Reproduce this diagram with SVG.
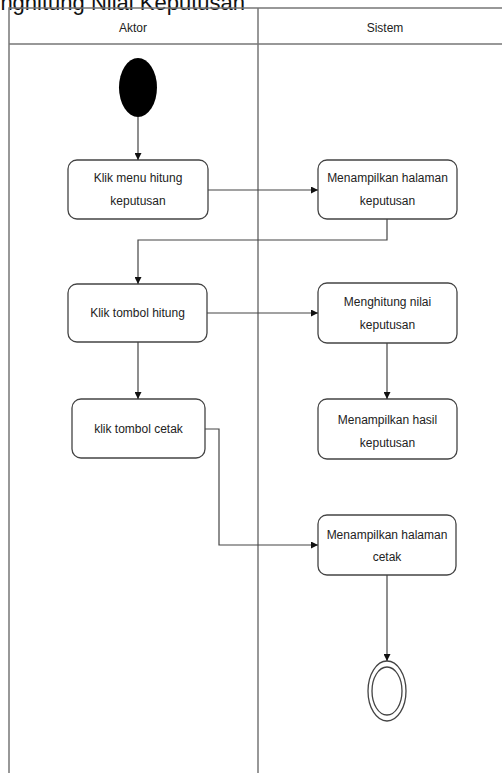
<svg xmlns="http://www.w3.org/2000/svg" width="502" height="773" viewBox="0 0 502 773">
  <defs>
    <marker id="arrow" viewBox="0 0 10 10" refX="10" refY="5" markerWidth="7" markerHeight="7" markerUnits="userSpaceOnUse" orient="auto">
      <path d="M0,0 L10,5 L0,10 Z" fill="#111"/>
    </marker>
    <style>
      .title { font-family: "Liberation Sans", Arial, sans-serif; font-size: 22px; fill: #111; }
      .lane { fill: none; stroke: #777; stroke-width: 1.5; }
      .head { font-family: "Liberation Sans", Arial, sans-serif; font-size: 12px; fill: #222; text-anchor: middle; }
      .act rect { fill: #fff; stroke: #444; stroke-width: 1.3; }
      .act text { font-family: "Liberation Sans", Arial, sans-serif; font-size: 12px; fill: #222; text-anchor: middle; }
      .flow { fill: none; stroke: #444; stroke-width: 1.2; marker-end: url(#arrow); }
    </style>
  </defs>
  <rect width="502" height="773" fill="#fff"/>

  <!-- heading, partly above the top edge -->
  <text class="title" x="245" y="10" text-anchor="end">nghitung Nilai Keputusan</text>

  <!-- swimlanes -->
  <g id="lanes">
    <path class="lane" d="M9,773 V8 H510 M9,44 H510 M258,8 V773"/>
    <text class="head" x="133" y="32">Aktor</text>
    <text class="head" x="385" y="32">Sistem</text>
  </g>

  <!-- start node -->
  <g id="start">
    <ellipse cx="138" cy="87.5" rx="19" ry="29.5" fill="#000"/>
  </g>

  <g id="klik-menu" class="act">
    <rect x="68" y="160" width="140" height="59" rx="9"/>
    <text x="138" y="182">Klik menu hitung</text>
    <text x="138" y="205">keputusan</text>
  </g>

  <g id="tampil-halaman" class="act">
    <rect x="318" y="160" width="139" height="59" rx="9"/>
    <text x="387.5" y="182">Menampilkan halaman</text>
    <text x="387.5" y="205">keputusan</text>
  </g>

  <g id="klik-hitung" class="act">
    <rect x="68" y="284" width="139" height="58" rx="9"/>
    <text x="137.5" y="317">Klik tombol hitung</text>
  </g>

  <g id="menghitung" class="act">
    <rect x="318" y="283" width="139" height="60" rx="9"/>
    <text x="387.5" y="306">Menghitung nilai</text>
    <text x="387.5" y="329">keputusan</text>
  </g>

  <g id="klik-cetak" class="act">
    <rect x="72" y="399" width="133" height="59" rx="9"/>
    <text x="138.5" y="433">klik tombol cetak</text>
  </g>

  <g id="tampil-hasil" class="act">
    <rect x="318" y="399" width="139" height="60" rx="9"/>
    <text x="387.5" y="424">Menampilkan hasil</text>
    <text x="387.5" y="447">keputusan</text>
  </g>

  <g id="tampil-cetak" class="act">
    <rect x="318" y="515" width="138" height="60" rx="9"/>
    <text x="387" y="539">Menampilkan halaman</text>
    <text x="387" y="561">cetak</text>
  </g>

  <!-- end node -->
  <g id="end">
    <ellipse cx="387" cy="691" rx="19" ry="30" fill="#fff" stroke="#444" stroke-width="1.3"/>
    <ellipse cx="387" cy="691" rx="15" ry="24" fill="#fff" stroke="#444" stroke-width="1.3"/>
  </g>

  <!-- control flows -->
  <g id="connectors">
    <path class="flow" d="M138,117 V160"/>
    <path class="flow" d="M208,190 H318"/>
    <path class="flow" d="M387,219 V240 H138 V284"/>
    <path class="flow" d="M207,313 H318"/>
    <path class="flow" d="M138,342 V399"/>
    <path class="flow" d="M387,343 V399"/>
    <path class="flow" d="M205,429 H219 V545 H318"/>
    <path class="flow" d="M387,575 V661"/>
  </g>
</svg>
